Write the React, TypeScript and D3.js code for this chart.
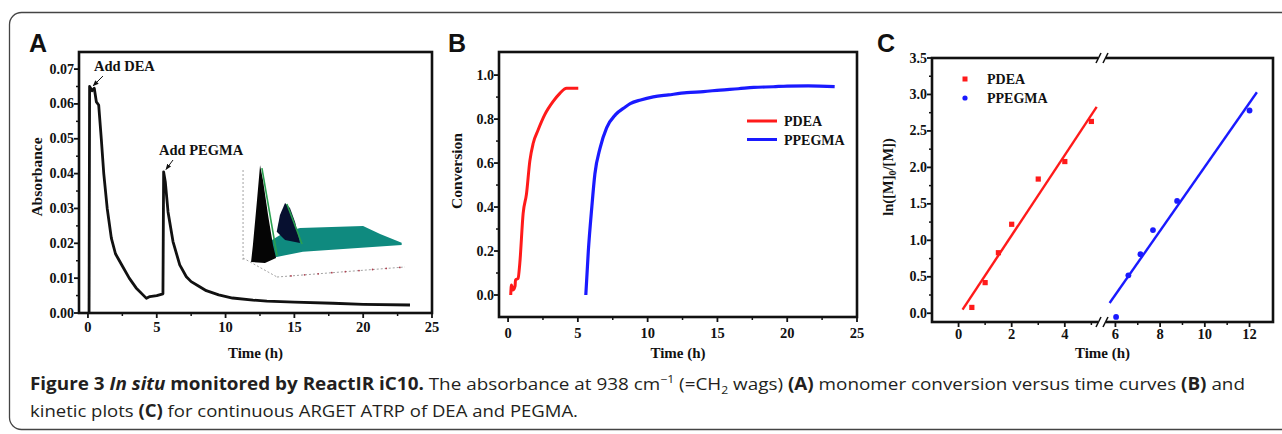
import React from 'react';
import * as d3 from 'd3';

const W = 1282;
const H = 434;

// ---------- Panel A: absorbance vs time ----------
const absTime = [0.08, 0.12, 0.3, 0.46, 0.61, 0.78, 0.97, 1.15, 1.4, 1.7, 2.0, 2.5, 3.0, 3.5, 4.0, 4.25, 4.5, 5.0, 5.45, 5.5, 5.62, 5.82, 6.18, 6.67, 7.15, 7.5, 8.0, 8.6, 9.5, 10.5, 12, 13, 15, 17.8, 20, 23.4];
const absValue = [0, 0.065, 0.0638, 0.0645, 0.0606, 0.0597, 0.050, 0.040, 0.030, 0.0215, 0.017, 0.0135, 0.0100, 0.0072, 0.0052, 0.0042, 0.0047, 0.0050, 0.0055, 0.0405, 0.0377, 0.029, 0.0205, 0.0138, 0.0104, 0.0090, 0.0078, 0.0064, 0.0052, 0.0043, 0.0037, 0.0034, 0.0031, 0.0028, 0.0025, 0.0023];
const absYTicks = [0, 0.01, 0.02, 0.03, 0.04, 0.05, 0.06, 0.07];
const absYMinor = [0.005, 0.015, 0.025, 0.035, 0.045, 0.055, 0.065];
const timeTicks = [0, 5, 10, 15, 20, 25];
const timeMinor = [2.5, 7.5, 12.5, 17.5, 22.5];

// ---------- Panel B: conversion vs time ----------
const pdeaTime = [0.19, 0.24, 0.36, 0.5, 0.53, 0.72, 0.84, 1.08, 1.32, 1.56, 1.8, 2.15, 2.63, 3.23, 3.71, 4.19, 5.03];
const pdeaConv = [0, 0.045, 0.023, 0.04, 0.068, 0.076, 0.144, 0.371, 0.46, 0.61, 0.69, 0.75, 0.82, 0.88, 0.917, 0.94, 0.94];
const ppegmaTime = [5.57, 5.75, 6.0, 6.22, 6.6, 7.06, 7.7, 8.4, 8.75, 9.5, 10.4, 11.5, 12.8, 14, 15.2, 16.5, 17.6, 19, 20, 21.5, 23.4];
const ppegmaConv = [0, 0.2, 0.4, 0.55, 0.67, 0.76, 0.82, 0.855, 0.87, 0.887, 0.901, 0.91, 0.92, 0.925, 0.932, 0.938, 0.944, 0.947, 0.95, 0.951, 0.948];
const convTicks = [0, 0.2, 0.4, 0.6, 0.8, 1.0];
const convMinor = [0.1, 0.3, 0.5, 0.7, 0.9];

// ---------- Panel C: kinetic plots ----------
const kinPdeaTime = [0.5, 1.0, 1.5, 2.0, 3.0, 4.0, 5.0];
const kinPdeaLn = [0.08, 0.42, 0.83, 1.22, 1.84, 2.08, 2.63];
const kinPdeaFitTime = [0.15, 5.2];
const kinPdeaFitLn = [0.05, 2.83];
const kinPpegmaTime = [6.03, 6.58, 7.12, 7.68, 8.76, 12.0];
const kinPpegmaLn = [-0.05, 0.52, 0.81, 1.14, 1.54, 2.78];
const kinPpegmaFitTime = [5.74, 12.33];
const kinPpegmaFitLn = [0.14, 3.03];
const lnTicks = [0, 0.5, 1.0, 1.5, 2.0, 2.5, 3.0, 3.5];
const lnMinor = [0.25, 0.75, 1.25, 1.75, 2.25, 2.75, 3.25];
const kinTicksLeft = [0, 2, 4];
const kinMinorLeft = [1, 3, 5];
const kinTicksRight = [6, 8, 10, 12];
const kinMinorRight = [7, 9, 11];

// ---------- inset (decorative 3D surface), local 0-100 units ----------
const insetBigPeak = [[6.5, 21.5], [7.6, 34.6], [10, 69], [11.8, 96], [13.5, 84.6], [16.5, 57.7], [19.4, 34.6], [21.2, 24.6], [14.7, 20.8]];
const insetPlateau = [[12.9, 24.6], [18.8, 38.5], [26.5, 44.6], [35.3, 47.7], [72.4, 49.2], [82.4, 43.1], [95.1, 36.4], [95.1, 34.6], [37, 29.5], [21.6, 25.4]];
const insetSmallPeak = [[21.6, 44.8], [23.5, 57.7], [26.5, 66.9], [29.4, 63], [32.4, 52.3], [35.3, 36.2], [26.5, 38.5]];
const insetGreenEdges = [[[12.9, 93.8], [21.8, 26.2]], [[27.6, 66.2], [36.5, 35.4]]];
const insetAxes = [[[1.8, 92.3], [1.8, 23.1]], [[1.8, 24.6], [21.8, 10]], [[21.8, 10], [97, 17.7]]];
const insetAxisDots = [30, 38, 46, 54, 62, 70, 78, 86, 94];

const serif = '"Liberation Serif", "Times New Roman", serif';
const sans = '"Liberation Sans", Arial, sans-serif';
const capFont = '"Open Sans", "Noto Sans", sans-serif';

type Sc = d3.ScaleLinear<number, number>;

function Box({ x0, x1, y0, y1 }: { x0: number; x1: number; y0: number; y1: number }) {
  return <rect x={x0} y={y0} width={x1 - x0} height={y1 - y0} fill="none" stroke="#111" strokeWidth={2.6} />;
}

function LeftAxis({ y, x0, major, minor, fmt }: { y: Sc; x0: number; major: number[]; minor: number[]; fmt: (v: number) => string }) {
  return (
    <g>
      {major.map((v, i) => (
        <g key={'M' + i}>
          <line x1={x0 - 5} x2={x0} y1={y(v)} y2={y(v)} stroke="#111" strokeWidth={1.8} />
          <text x={x0 - 5} y={y(v) + 4.5} textAnchor="end" fontFamily={serif} fontWeight="bold" fontSize={14} fill="#111">{fmt(v)}</text>
        </g>
      ))}
      {minor.map((v, i) => (
        <line key={'m' + i} x1={x0 - 3} x2={x0} y1={y(v)} y2={y(v)} stroke="#111" strokeWidth={1.5} />
      ))}
    </g>
  );
}

function BottomAxis({ x, y0, major, minor, labelDy }: { x: Sc; y0: number; major: number[]; minor: number[]; labelDy: number }) {
  return (
    <g>
      {major.map((v, i) => (
        <g key={'M' + i}>
          <line x1={x(v)} x2={x(v)} y1={y0} y2={y0 + 5} stroke="#111" strokeWidth={1.8} />
          <text x={x(v)} y={y0 + labelDy} textAnchor="middle" fontFamily={serif} fontWeight="bold" fontSize={14.5} fill="#111">{String(v)}</text>
        </g>
      ))}
      {minor.map((v, i) => (
        <line key={'m' + i} x1={x(v)} x2={x(v)} y1={y0} y2={y0 + 3} stroke="#111" strokeWidth={1.5} />
      ))}
    </g>
  );
}

function YTitle({ x, y, children }: { x: number; y: number; children: React.ReactNode }) {
  return (
    <text transform={`translate(${x},${y}) rotate(-90)`} textAnchor="middle" fontFamily={serif} fontWeight="bold" fontSize={15.5} fill="#111">{children}</text>
  );
}

function XTitle({ x, y }: { x: number; y: number }) {
  return <text x={x} y={y} textAnchor="middle" fontFamily={serif} fontWeight="bold" fontSize={15} fill="#111">Time (h)</text>;
}

function PanelLetter({ x, y, t }: { x: number; y: number; t: string }) {
  return <text x={x} y={y} fontFamily={sans} fontWeight="bold" fontSize={25} fill="#111">{t}</text>;
}

export default function App() {
  // ----- Panel A -----
  const aL = 79, aR = 432, aT = 52, aB = 313;
  const xA = d3.scaleLinear().domain([-0.65, 25]).range([aL, aR]);
  const yA = d3.scaleLinear().domain([0, 0.0749]).range([aB, aT]);
  const lineA = d3.line<number>().x((_, i) => xA(absTime[i])).y((d) => yA(d));

  // ----- Panel B -----
  const bL = 499, bR = 857, bT = 52, bB = 317;
  const xB = d3.scaleLinear().domain([-0.65, 25]).range([bL, bR]);
  const yB = d3.scaleLinear().domain([-0.1, 1.105]).range([bB, bT]);
  const linePdea = d3.line<number>().x((_, i) => xB(pdeaTime[i])).y((d) => yB(d)).curve(d3.curveMonotoneX);
  const linePpegma = d3.line<number>().x((_, i) => xB(ppegmaTime[i])).y((d) => yB(d)).curve(d3.curveMonotoneX);

  // ----- Panel C -----
  const cL = 932, cR = 1273, cT = 58, cB = 322, cBrk = 1102;
  const xC1 = d3.scaleLinear().domain([-1, 5.4]).range([cL, cBrk]);
  const xC2 = d3.scaleLinear().domain([5.4, 13.05]).range([cBrk, cR]);
  const xC = (v: number) => (v <= 5.4 ? xC1(v) : xC2(v));
  const yC = d3.scaleLinear().domain([-0.12, 3.5]).range([cB, cT]);

  // ----- inset scales -----
  const ix = d3.scaleLinear().domain([0, 100]).range([240, 410]);
  const iy = d3.scaleLinear().domain([0, 100]).range([290, 160]);
  const poly = (pts: number[][]) => pts.map((p) => `${ix(p[0])},${iy(p[1])}`).join(' ');

  // annotations in data units
  const deaText = { t: 0.44, v: 0.0694 };
  const deaArrow = { t0: 1.09, v0: 0.068, t1: 0.38, v1: 0.0652 };
  const pegText = { t: 5.16, v: 0.0453 };
  const pegArrow = { t0: 6.18, v0: 0.0439, t1: 5.67, v1: 0.0412 };

  return (
    <svg width={W} height={H} style={{ position: 'absolute', left: 0, top: 0, background: '#fff' }}>
      <defs>
        <marker id="arr" viewBox="0 0 10 10" refX="9" refY="5" markerWidth="6" markerHeight="6" orient="auto">
          <path d="M0,1 L10,5 L0,9 z" fill="#111" />
        </marker>
      </defs>
      <rect x={0} y={0} width={W} height={H} fill="#fff" />
      {/* outer frame */}
      <rect x={9.5} y={12.5} width={1300} height={417} rx={12} ry={12} fill="none" stroke="#444" strokeWidth={1.3} />

      {/* ================= Panel A ================= */}
      <PanelLetter x={29} y={52} t="A" />
      {/* inset */}
      <g>
        {insetAxes.map((seg, i) => (
          <line key={'ia' + i} x1={ix(seg[0][0])} y1={iy(seg[0][1])} x2={ix(seg[1][0])} y2={iy(seg[1][1])} stroke="#8a8a8a" strokeWidth={0.8} strokeDasharray="2,2" />
        ))}
        {insetAxisDots.map((u, i) => (
          <circle key={'id' + i} cx={ix(u)} cy={iy(10 + (u - 21.8) * 0.1024)} r={0.9} fill="#b04050" />
        ))}
        <polygon points={poly(insetPlateau)} fill="#0f8a7f" />
        <polygon points={poly(insetBigPeak)} fill="#050505" />
        <polygon points={poly(insetSmallPeak)} fill="#071030" />
        {insetGreenEdges.map((seg, i) => (
          <line key={'ig' + i} x1={ix(seg[0][0])} y1={iy(seg[0][1])} x2={ix(seg[1][0])} y2={iy(seg[1][1])} stroke="#2aa050" strokeWidth={1.6} />
        ))}
      </g>
      <path d={lineA(absValue) || ''} fill="none" stroke="#111" strokeWidth={2.8} strokeLinejoin="round" />
      <Box x0={aL} x1={aR} y0={aT} y1={aB} />
      <LeftAxis y={yA} x0={aL} major={absYTicks} minor={absYMinor} fmt={(v) => v.toFixed(2)} />
      <BottomAxis x={xA} y0={aB} major={timeTicks} minor={timeMinor} labelDy={19} />
      <YTitle x={42} y={177}>Absorbance</YTitle>
      <XTitle x={(aL + aR) / 2} y={358} />
      <text x={xA(deaText.t)} y={yA(deaText.v)} fontFamily={serif} fontWeight="bold" fontSize={14.5} fill="#111">Add DEA</text>
      <line x1={xA(deaArrow.t0)} y1={yA(deaArrow.v0)} x2={xA(deaArrow.t1)} y2={yA(deaArrow.v1)} stroke="#111" strokeWidth={1} markerEnd="url(#arr)" />
      <text x={xA(pegText.t)} y={yA(pegText.v)} fontFamily={serif} fontWeight="bold" fontSize={14.5} fill="#111">Add PEGMA</text>
      <line x1={xA(pegArrow.t0)} y1={yA(pegArrow.v0)} x2={xA(pegArrow.t1)} y2={yA(pegArrow.v1)} stroke="#111" strokeWidth={1} markerEnd="url(#arr)" />

      {/* ================= Panel B ================= */}
      <PanelLetter x={448} y={52} t="B" />
      <path d={linePdea(pdeaConv) || ''} fill="none" stroke="#ff1a1a" strokeWidth={3} strokeLinejoin="round" />
      <path d={linePpegma(ppegmaConv) || ''} fill="none" stroke="#1a1aff" strokeWidth={3.2} strokeLinejoin="round" />
      <Box x0={bL} x1={bR} y0={bT} y1={bB} />
      <LeftAxis y={yB} x0={bL} major={convTicks} minor={convMinor} fmt={(v) => v.toFixed(1)} />
      <BottomAxis x={xB} y0={bB} major={timeTicks} minor={timeMinor} labelDy={21} />
      <YTitle x={462} y={171}>Conversion</YTitle>
      <XTitle x={(bL + bR) / 2} y={358} />
      {/* legend B */}
      <line x1={747} x2={777} y1={121} y2={121} stroke="#ff1a1a" strokeWidth={3} />
      <text x={784} y={126} fontFamily={serif} fontWeight="bold" fontSize={14} fill="#111">PDEA</text>
      <line x1={747} x2={777} y1={139.5} y2={139.5} stroke="#1a1aff" strokeWidth={3} />
      <text x={784} y={145} fontFamily={serif} fontWeight="bold" fontSize={14} fill="#111">PPEGMA</text>

      {/* ================= Panel C ================= */}
      <PanelLetter x={877} y={52} t="C" />
      <line x1={xC(kinPdeaFitTime[0])} y1={yC(kinPdeaFitLn[0])} x2={xC(kinPdeaFitTime[1])} y2={yC(kinPdeaFitLn[1])} stroke="#ff1a1a" strokeWidth={2.4} />
      <line x1={xC(kinPpegmaFitTime[0])} y1={yC(kinPpegmaFitLn[0])} x2={xC(kinPpegmaFitTime[1])} y2={yC(kinPpegmaFitLn[1])} stroke="#1a1aff" strokeWidth={2.4} />
      {kinPdeaTime.map((t, i) => (
        <rect key={'rp' + i} x={xC(t) - 2.6} y={yC(kinPdeaLn[i]) - 2.6} width={5.2} height={5.2} fill="#ff1a1a" />
      ))}
      {kinPpegmaTime.map((t, i) => (
        <circle key={'bp' + i} cx={xC(t)} cy={yC(kinPpegmaLn[i])} r={2.9} fill="#1a1aff" />
      ))}
      <Box x0={cL} x1={cR} y0={cT} y1={cB} />
      {/* axis break */}
      <rect x={cBrk - 4} y={cT - 3} width={8} height={6} fill="#fff" />
      <rect x={cBrk - 4} y={cB - 3} width={8} height={6} fill="#fff" />
      {[cT, cB].map((yy, i) => (
        <g key={'brk' + i}>
          <line x1={cBrk - 6} y1={yy + 5} x2={cBrk - 1} y2={yy - 5} stroke="#111" strokeWidth={1.6} />
          <line x1={cBrk + 1} y1={yy + 5} x2={cBrk + 6} y2={yy - 5} stroke="#111" strokeWidth={1.6} />
        </g>
      ))}
      <LeftAxis y={yC} x0={cL} major={lnTicks} minor={lnMinor} fmt={(v) => v.toFixed(1)} />
      <BottomAxis x={xC1} y0={cB} major={kinTicksLeft} minor={kinMinorLeft} labelDy={17} />
      <BottomAxis x={xC2} y0={cB} major={kinTicksRight} minor={kinMinorRight} labelDy={17} />
      <text transform={`translate(893,177) rotate(-90)`} textAnchor="middle" fontFamily={serif} fontWeight="bold" fontSize={14.5} fill="#111">
        {'ln([M]'}
        <tspan dy={3} fontSize={10}>0</tspan>
        <tspan dy={-3}>{'/[M])'}</tspan>
      </text>
      <XTitle x={(cL + cR) / 2} y={358} />
      {/* legend C */}
      <rect x={962.5} y={76.5} width={5} height={5} fill="#ff1a1a" />
      <text x={987} y={84} fontFamily={serif} fontWeight="bold" fontSize={14} fill="#111">PDEA</text>
      <circle cx={965} cy={98} r={2.6} fill="#1a1aff" />
      <text x={987} y={103} fontFamily={serif} fontWeight="bold" fontSize={14} fill="#111">PPEGMA</text>

      {/* ================= Caption ================= */}
      <text x={30} y={390} fontFamily={capFont} fontSize={17} fill="#231f20" textLength={1215} lengthAdjust="spacingAndGlyphs" style={{ whiteSpace: 'pre' }}>
        <tspan fontWeight="bold">{'Figure 3 '}</tspan>
        <tspan fontWeight="bold" fontStyle="italic">{'In situ'}</tspan>
        <tspan fontWeight="bold">{' monitored by ReactIR iC10.'}</tspan>
        <tspan>{' The absorbance at 938 cm'}</tspan>
        <tspan dy={-7} fontSize={11}>{'\u22121'}</tspan>
        <tspan dy={7}>{' (=CH'}</tspan>
        <tspan dy={4} fontSize={11}>{'2'}</tspan>
        <tspan dy={-4}>{' wags) '}</tspan>
        <tspan fontWeight="bold">{'(A)'}</tspan>
        <tspan>{' monomer conversion versus time curves '}</tspan>
        <tspan fontWeight="bold">{'(B)'}</tspan>
        <tspan>{' and'}</tspan>
      </text>
      <text x={30} y={417} fontFamily={capFont} fontSize={17} fill="#231f20" textLength={548} lengthAdjust="spacingAndGlyphs" style={{ whiteSpace: 'pre' }}>
        <tspan>{'kinetic plots '}</tspan>
        <tspan fontWeight="bold">{'(C)'}</tspan>
        <tspan>{' for continuous ARGET ATRP of DEA and PEGMA.'}</tspan>
      </text>
    </svg>
  );
}
